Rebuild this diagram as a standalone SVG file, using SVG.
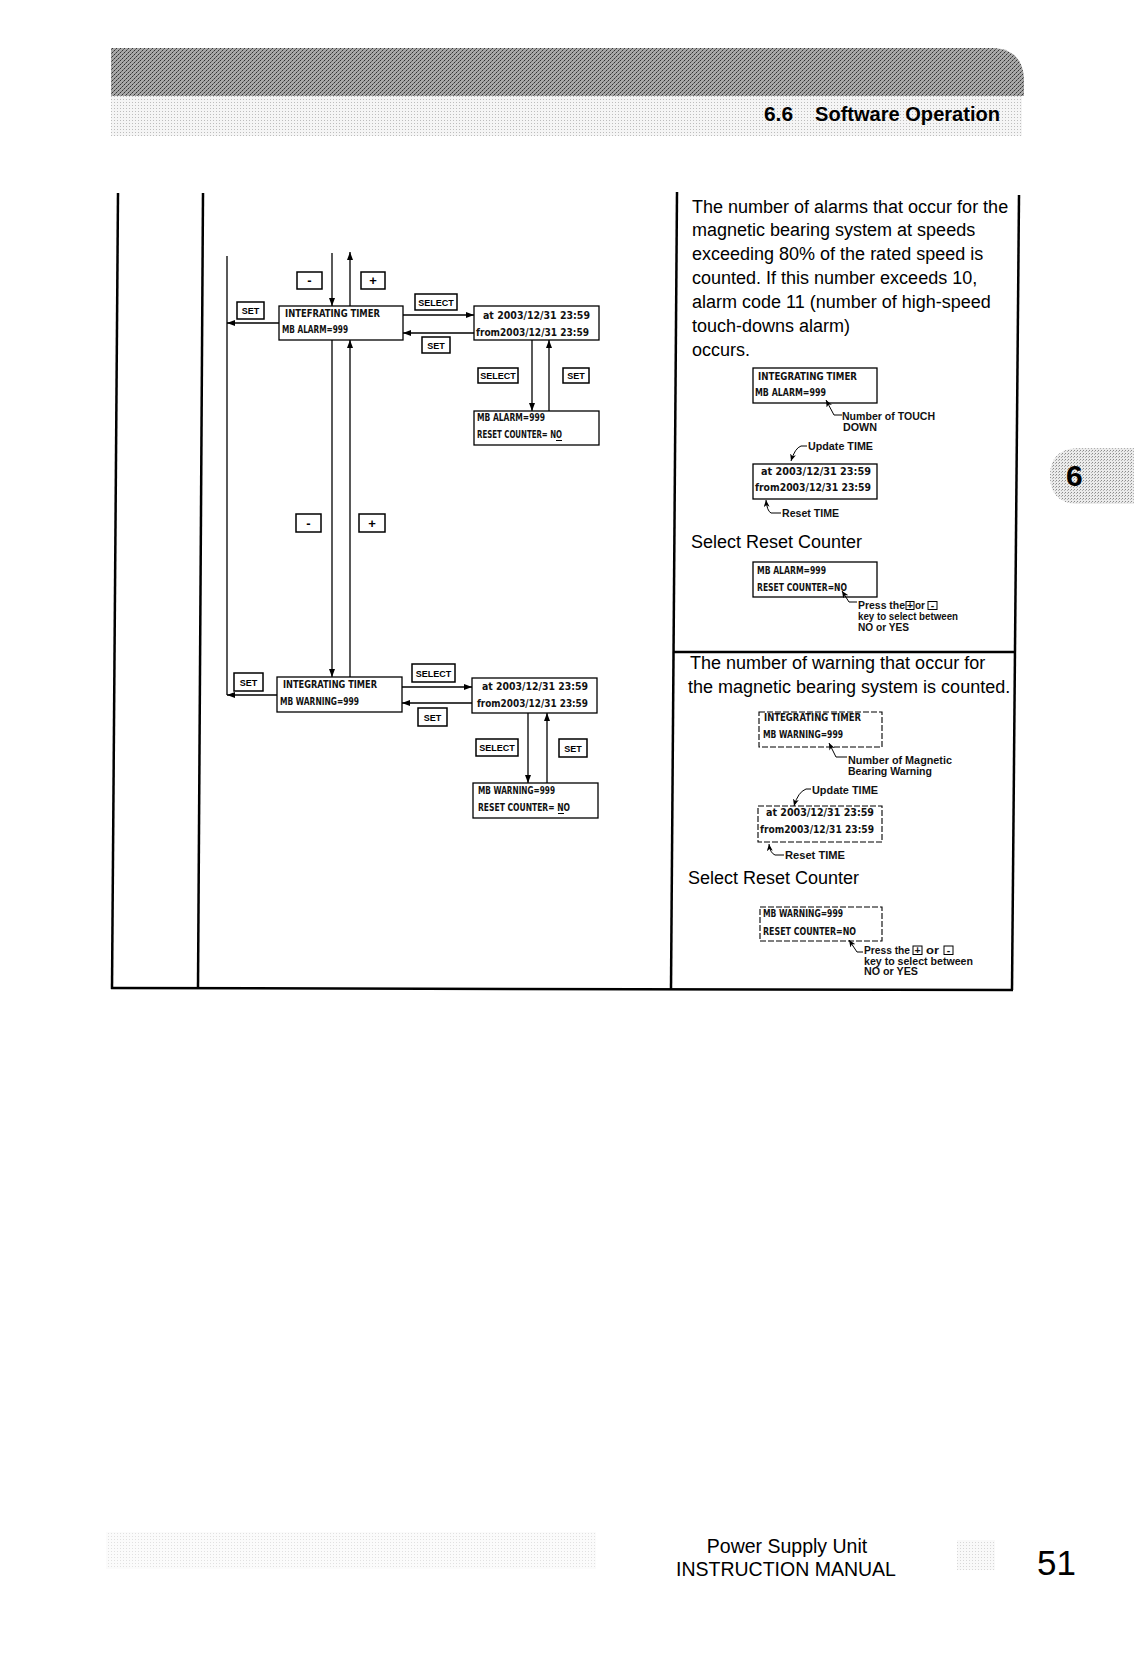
<svg xmlns="http://www.w3.org/2000/svg" width="1134" height="1668" viewBox="0 0 1134 1668">
<style>
.lcd{font-family:"DejaVu Sans Condensed","DejaVu Sans",sans-serif;font-weight:bold;font-size:10.5px;fill:#111}
.box{fill:#fff;stroke:#000;stroke-width:1.3}
.dbox{fill:#fff;stroke:#000;stroke-width:1.1;stroke-dasharray:6 2}
.btn{fill:#fff;stroke:#000;stroke-width:1.5}
.btxt{font-family:"Liberation Sans",Arial,sans-serif;font-weight:bold;font-size:9px;fill:#000;text-anchor:middle}
.pm{font-family:"Liberation Sans",Arial,sans-serif;font-weight:bold;font-size:13px;fill:#000;text-anchor:middle}
.con{fill:none;stroke:#000;stroke-width:1.3}
.ann{fill:none;stroke:#000;stroke-width:1}
.body{font-family:"Liberation Sans",Arial,sans-serif;font-size:18px;fill:#000}
.note{font-family:"Liberation Sans",Arial,sans-serif;font-weight:bold;font-size:10.5px;fill:#111}
.frame{stroke:#000;stroke-width:2.5;fill:none}
</style>
<defs>
<pattern id="dk" width="4" height="4" patternUnits="userSpaceOnUse">
<rect width="4" height="4" fill="#a8a8a8"/>
<rect x="0" y="0" width="1" height="1" fill="#333"/>
<rect x="2" y="2" width="1" height="1" fill="#333"/>
<rect x="1" y="3" width="1" height="1" fill="#666"/>
<rect x="3" y="1" width="1" height="1" fill="#666"/>
</pattern>
<pattern id="lt" width="3" height="3" patternUnits="userSpaceOnUse">
<rect width="3" height="3" fill="#f5f5f5"/>
<rect width="1" height="1" fill="#bdbdbd"/>
</pattern>
<pattern id="tab" width="3" height="3" patternUnits="userSpaceOnUse">
<rect width="3" height="3" fill="#ebebeb"/>
<rect width="1" height="1" fill="#8a8a8a"/>
<rect x="2" y="1" width="1" height="1" fill="#b0b0b0"/>
</pattern>
<marker id="ah" viewBox="0 0 8 6" refX="8" refY="3" markerWidth="8" markerHeight="6" markerUnits="userSpaceOnUse" orient="auto"><path d="M0,0 L8,3 L0,6 z" fill="#000"/></marker>
<marker id="as" viewBox="0 0 7 6" refX="7" refY="3" markerWidth="7" markerHeight="6" markerUnits="userSpaceOnUse" orient="auto"><path d="M0,0 L7,3 L0,6 L2,3 z" fill="#000"/></marker>
</defs>
<rect width="1134" height="1668" fill="#fff"/>

<!-- header -->
<g id="header">
<path d="M111,48 H995 Q1022,50 1024,78 V96 H111 Z" fill="url(#dk)"/>
<rect x="111" y="96" width="911" height="40" fill="url(#lt)"/>
<text x="764" y="121" font-family="'Liberation Sans',Arial,sans-serif" font-weight="bold" font-size="21" textLength="29" lengthAdjust="spacingAndGlyphs">6.6</text>
<text x="815" y="121" font-family="'Liberation Sans',Arial,sans-serif" font-weight="bold" font-size="21" textLength="185" lengthAdjust="spacingAndGlyphs">Software Operation</text>
</g>

<g id="side-tab">
<path d="M1134,448 H1076 Q1050,450 1050,476 Q1050,502 1076,504 H1134 Z" fill="url(#tab)"/>
<text x="1066" y="486" font-family="'Liberation Sans',Arial,sans-serif" font-weight="bold" font-size="30">6</text>
</g>

<!-- frame -->
<g id="frame">
<line class="frame" x1="118" y1="193" x2="112" y2="989"/>
<line class="frame" x1="203" y1="193" x2="198" y2="989" stroke-width="3"/>
<line class="frame" x1="677" y1="192" x2="671" y2="989" stroke-width="2"/>
<line class="frame" x1="1019" y1="195" x2="1012" y2="990"/>
<line class="frame" x1="111" y1="988" x2="1013" y2="990" stroke-width="3"/>
<line class="frame" x1="673" y1="652" x2="1015" y2="652" stroke-width="2"/>
</g>

<!-- connectors -->
<g id="connectors">
<path class="con" d="M332,253 V306" marker-end="url(#ah)"/>
<path class="con" d="M350,306 V252" marker-end="url(#ah)"/>
<path class="con" d="M332,340 V677" marker-end="url(#ah)"/>
<path class="con" d="M350,677 V340" marker-end="url(#ah)"/>
<path class="con" d="M227,256 V695"/>
<path class="con" d="M279,323 H227" marker-end="url(#ah)"/>
<path class="con" d="M277,695 H227" marker-end="url(#ah)"/>
<path class="con" d="M403,315 H474" marker-end="url(#ah)"/>
<path class="con" d="M474,333 H403" marker-end="url(#ah)"/>
<path class="con" d="M532,340 V411" marker-end="url(#ah)"/>
<path class="con" d="M549,411 V340" marker-end="url(#ah)"/>
<path class="con" d="M402,687 H472" marker-end="url(#ah)"/>
<path class="con" d="M472,703 H402" marker-end="url(#ah)"/>
<path class="con" d="M528,713 V783" marker-end="url(#ah)"/>
<path class="con" d="M547,783 V713" marker-end="url(#ah)"/>
</g>

<!-- key buttons -->
<g id="buttons">
<g id="btn-minus-1"><rect class="btn" x="297" y="272" width="25" height="17"/><text class="pm" x="309.5" y="285">-</text></g>
<g id="btn-plus-1"><rect class="btn" x="361" y="272" width="24" height="17"/><text class="pm" x="373" y="285">+</text></g>
<g id="btn-set-1"><rect class="btn" x="237" y="302" width="27" height="17"/><text class="btxt" x="250.5" y="314">SET</text></g>
<g id="btn-select-1"><rect class="btn" x="415" y="294" width="42" height="16"/><text class="btxt" x="436" y="305.5" font-size="8">SELECT</text></g>
<g id="btn-set-2"><rect class="btn" x="422" y="337" width="28" height="16"/><text class="btxt" x="436" y="348.5">SET</text></g>
<g id="btn-select-2"><rect class="btn" x="478" y="368" width="40" height="15"/><text class="btxt" x="498" y="379" font-size="8">SELECT</text></g>
<g id="btn-set-3"><rect class="btn" x="563" y="368" width="26" height="15"/><text class="btxt" x="576" y="379">SET</text></g>
<g id="btn-minus-2"><rect class="btn" x="296" y="514" width="25" height="18"/><text class="pm" x="308.5" y="527.5">-</text></g>
<g id="btn-plus-2"><rect class="btn" x="359" y="514" width="26" height="18"/><text class="pm" x="372" y="527.5">+</text></g>
<g id="btn-set-4"><rect class="btn" x="234" y="673" width="29" height="18"/><text class="btxt" x="248.5" y="685.5">SET</text></g>
<g id="btn-select-4"><rect class="btn" x="412" y="664" width="43" height="18"/><text class="btxt" x="433.5" y="676.5" font-size="8">SELECT</text></g>
<g id="btn-set-5"><rect class="btn" x="418" y="708" width="29" height="18"/><text class="btxt" x="432.5" y="720.5">SET</text></g>
<g id="btn-select-6"><rect class="btn" x="476" y="739" width="42" height="17"/><text class="btxt" x="497" y="751" font-size="8">SELECT</text></g>
<g id="btn-set-6"><rect class="btn" x="559" y="739" width="28" height="18"/><text class="btxt" x="573" y="751.5">SET</text></g>
</g>

<!-- LCD nodes (left flow) -->
<g id="node-alarm-timer">
<rect class="box" x="279" y="306" width="124" height="34"/>
<text class="lcd" x="285" y="317" textLength="95" lengthAdjust="spacingAndGlyphs">INTEFRATING TIMER</text>
<text class="lcd" x="282" y="333" textLength="66" lengthAdjust="spacingAndGlyphs">MB ALARM=999</text>
</g>
<g id="node-alarm-time">
<rect class="box" x="474" y="306" width="125" height="34"/>
<text class="lcd" x="483" y="319" textLength="107" lengthAdjust="spacingAndGlyphs">at 2003/12/31 23:59</text>
<text class="lcd" x="476" y="336" textLength="113" lengthAdjust="spacingAndGlyphs">from2003/12/31 23:59</text>
</g>
<g id="node-alarm-reset">
<rect class="box" x="474" y="411" width="125" height="34"/>
<text class="lcd" x="477" y="421" textLength="68" lengthAdjust="spacingAndGlyphs">MB ALARM=999</text>
<text class="lcd" x="477" y="438" textLength="85" lengthAdjust="spacingAndGlyphs">RESET COUNTER= NO</text>
<line x1="556" y1="440.5" x2="562" y2="440.5" stroke="#000" stroke-width="1"/>
</g>
<g id="node-warning-timer">
<rect class="box" x="277" y="677" width="125" height="35"/>
<text class="lcd" x="283" y="688" textLength="94" lengthAdjust="spacingAndGlyphs">INTEGRATING TIMER</text>
<text class="lcd" x="280" y="705" textLength="79" lengthAdjust="spacingAndGlyphs">MB WARNING=999</text>
</g>
<g id="node-warning-time">
<rect class="box" x="472" y="678" width="125" height="35"/>
<text class="lcd" x="482" y="690" textLength="106" lengthAdjust="spacingAndGlyphs">at 2003/12/31 23:59</text>
<text class="lcd" x="477" y="707" textLength="111" lengthAdjust="spacingAndGlyphs">from2003/12/31 23:59</text>
</g>
<g id="node-warning-reset">
<rect class="box" x="473" y="783" width="125" height="35"/>
<text class="lcd" x="478" y="794" textLength="77" lengthAdjust="spacingAndGlyphs">MB WARNING=999</text>
<text class="lcd" x="478" y="811" textLength="92" lengthAdjust="spacingAndGlyphs">RESET COUNTER= NO</text>
<line x1="558" y1="813.5" x2="564" y2="813.5" stroke="#000" stroke-width="1"/>
</g>

<!-- right column: section 1 -->
<g id="desc-alarm">
<text class="body" x="692" y="213">The number of alarms that occur for the</text>
<text class="body" x="692" y="236">magnetic bearing system at speeds</text>
<text class="body" x="692" y="260">exceeding 80% of the rated speed is</text>
<text class="body" x="692" y="283.5">counted. If this number exceeds 10,</text>
<text class="body" x="692" y="308">alarm code 11 (number of high-speed</text>
<text class="body" x="692" y="332">touch-downs alarm)</text>
<text class="body" x="692" y="356">occurs.</text>
<text class="body" x="691" y="548">Select Reset Counter</text>
</g>
<g id="ex-alarm-timer">
<rect class="box" x="753" y="368" width="124" height="35" stroke-width="1"/>
<text class="lcd" x="758" y="380" font-size="10" textLength="99" lengthAdjust="spacingAndGlyphs">INTEGRATING TIMER</text>
<text class="lcd" x="755" y="396" font-size="10" textLength="71" lengthAdjust="spacingAndGlyphs">MB ALARM=999</text>
</g>
<g id="ex-alarm-time">
<rect class="box" x="753" y="464" width="124" height="35" stroke-width="1"/>
<text class="lcd" x="761" y="475" font-size="10" textLength="110" lengthAdjust="spacingAndGlyphs">at 2003/12/31 23:59</text>
<text class="lcd" x="755" y="491" font-size="10" textLength="116" lengthAdjust="spacingAndGlyphs">from2003/12/31 23:59</text>
</g>
<g id="ex-alarm-reset">
<rect class="box" x="753" y="562" width="124" height="35" stroke-width="1"/>
<text class="lcd" x="757" y="574" font-size="10" textLength="69" lengthAdjust="spacingAndGlyphs">MB ALARM=999</text>
<text class="lcd" x="757" y="591" font-size="10" textLength="90" lengthAdjust="spacingAndGlyphs">RESET COUNTER=NO</text>
</g>
<g id="notes-alarm">
<path class="ann" d="M842,415 H834 L826,400" marker-end="url(#as)"/>
<text class="note" x="842" y="420" textLength="93" lengthAdjust="spacingAndGlyphs">Number of TOUCH</text>
<text class="note" x="843" y="431" textLength="34" lengthAdjust="spacingAndGlyphs">DOWN</text>
<path class="ann" d="M807,446 H801 Q795,448 791,461" marker-end="url(#as)"/>
<text class="note" x="808" y="450" textLength="65" lengthAdjust="spacingAndGlyphs">Update TIME</text>
<path class="ann" d="M781,513 H771 Q767,511 766,500" marker-end="url(#as)"/>
<text class="note" x="782" y="517" textLength="57" lengthAdjust="spacingAndGlyphs">Reset TIME</text>
<path class="ann" d="M857,602 H849 L842,591" marker-end="url(#as)"/>
<text class="note" x="858" y="609" textLength="47" lengthAdjust="spacingAndGlyphs">Press the</text>
<rect x="906" y="601.5" width="8" height="8" fill="#fff" stroke="#000" stroke-width="1"/>
<text class="note" x="910" y="608.5" font-size="8" text-anchor="middle">+</text>
<text class="note" x="915" y="609" textLength="10" lengthAdjust="spacingAndGlyphs">or</text>
<rect x="928" y="601.5" width="9" height="8" fill="#fff" stroke="#000" stroke-width="1"/>
<text class="note" x="932.5" y="608.5" font-size="8" text-anchor="middle">-</text>
<text class="note" x="858" y="620" textLength="100" lengthAdjust="spacingAndGlyphs">key to select between</text>
<text class="note" x="858" y="631" textLength="51" lengthAdjust="spacingAndGlyphs">NO or YES</text>
</g>

<!-- right column: section 2 -->
<g id="desc-warning">
<text class="body" x="690" y="669">The number of warning that occur for</text>
<text class="body" x="688" y="693">the magnetic bearing system is counted.</text>
<text class="body" x="688" y="884">Select Reset Counter</text>
</g>
<g id="ex-warning-timer">
<rect class="dbox" x="759" y="712" width="123" height="35"/>
<text class="lcd" x="764" y="721" font-size="10" textLength="97" lengthAdjust="spacingAndGlyphs">INTEGRATING TIMER</text>
<text class="lcd" x="763" y="738" font-size="10" textLength="80" lengthAdjust="spacingAndGlyphs">MB WARNING=999</text>
</g>
<g id="ex-warning-time">
<rect class="dbox" x="758" y="806" width="124" height="36"/>
<text class="lcd" x="766" y="816" font-size="10" textLength="108" lengthAdjust="spacingAndGlyphs">at 2003/12/31 23:59</text>
<text class="lcd" x="760" y="833" font-size="10" textLength="114" lengthAdjust="spacingAndGlyphs">from2003/12/31 23:59</text>
</g>
<g id="ex-warning-reset">
<rect class="dbox" x="760" y="907" width="122" height="34"/>
<text class="lcd" x="763" y="917" font-size="10" textLength="80" lengthAdjust="spacingAndGlyphs">MB WARNING=999</text>
<text class="lcd" x="763" y="935" font-size="10" textLength="93" lengthAdjust="spacingAndGlyphs">RESET COUNTER=NO</text>
</g>
<g id="notes-warning">
<path class="ann" d="M847,757 H836 L829,743" marker-end="url(#as)"/>
<text class="note" x="848" y="764" textLength="104" lengthAdjust="spacingAndGlyphs">Number of Magnetic</text>
<text class="note" x="848" y="775" textLength="84" lengthAdjust="spacingAndGlyphs">Bearing Warning</text>
<path class="ann" d="M811,789 H806 Q798,792 794,806" marker-end="url(#as)"/>
<text class="note" x="812" y="794" textLength="66" lengthAdjust="spacingAndGlyphs">Update TIME</text>
<path class="ann" d="M784,855 H775 Q770,853 769,844" marker-end="url(#as)"/>
<text class="note" x="785" y="859" textLength="60" lengthAdjust="spacingAndGlyphs">Reset TIME</text>
<path class="ann" d="M863,952 H857 L849,940" marker-end="url(#as)"/>
<text class="note" x="864" y="954" textLength="46" lengthAdjust="spacingAndGlyphs">Press the</text>
<rect x="913" y="946" width="9" height="8.5" fill="#fff" stroke="#000" stroke-width="1"/>
<text class="note" x="917.5" y="953.5" font-size="8" text-anchor="middle">+</text>
<text class="note" x="926" y="954" textLength="13" lengthAdjust="spacingAndGlyphs">or</text>
<rect x="944" y="946" width="9" height="8.5" fill="#fff" stroke="#000" stroke-width="1"/>
<text class="note" x="948.5" y="953.5" font-size="8" text-anchor="middle">-</text>
<text class="note" x="864" y="965" textLength="109" lengthAdjust="spacingAndGlyphs">key to select between</text>
<text class="note" x="864" y="975" textLength="54" lengthAdjust="spacingAndGlyphs">NO or YES</text>
</g>

<!-- footer -->
<g id="footer">
<rect x="106" y="1532" width="490" height="37" fill="url(#lt)" opacity="0.45"/>
<rect x="957" y="1540" width="38" height="30" fill="url(#lt)" opacity="0.6"/>
<text x="787" y="1553" font-family="'Liberation Sans',Arial,sans-serif" font-size="19.5" text-anchor="middle">Power Supply Unit</text>
<text x="786" y="1576" font-family="'Liberation Sans',Arial,sans-serif" font-size="19.5" text-anchor="middle">INSTRUCTION MANUAL</text>
<text x="1037" y="1575" font-family="'Liberation Sans',Arial,sans-serif" font-size="35">51</text>
</g>
</svg>
